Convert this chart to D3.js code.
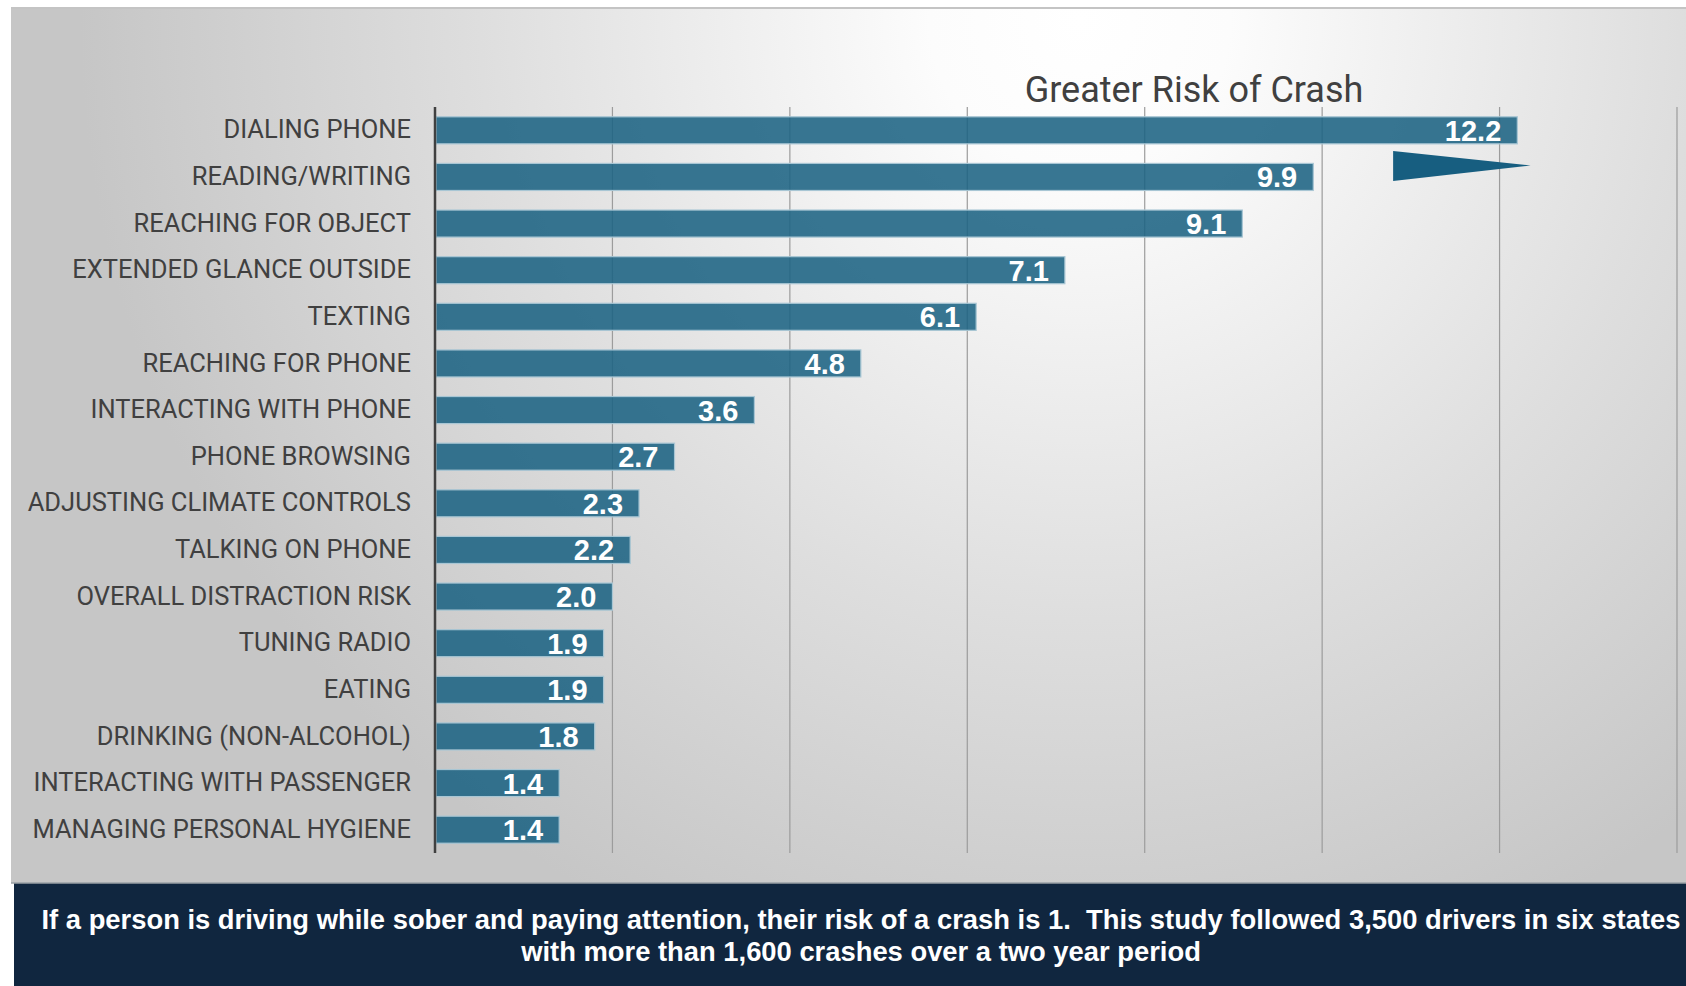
<!DOCTYPE html>
<html>
<head>
<meta charset="utf-8">
<script src="https://cdn.jsdelivr.net/npm/d3@7"></script>
<style>
    html, body { margin: 0; padding: 0; background: #fff; }
    svg { display: block; }
</style>
</head>
<body>
<div class="canvas"></div>
<script>
// data
const categories = [
    'DIALING PHONE',
    'READING/WRITING',
    'REACHING FOR OBJECT',
    'EXTENDED GLANCE OUTSIDE',
    'TEXTING',
    'REACHING FOR PHONE',
    'INTERACTING WITH PHONE',
    'PHONE BROWSING',
    'ADJUSTING CLIMATE CONTROLS',
    'TALKING ON PHONE',
    'OVERALL DISTRACTION RISK',
    'TUNING RADIO',
    'EATING',
    'DRINKING (NON-ALCOHOL)',
    'INTERACTING WITH PASSENGER',
    'MANAGING PERSONAL HYGIENE'
];
const riskValues = [12.2, 9.9, 9.1, 7.1, 6.1, 4.8, 3.6, 2.7, 2.3, 2.2, 2.0, 1.9, 1.9, 1.8, 1.4, 1.4];
const gridTicks = [0, 2, 4, 6, 8, 10, 12, 14];
const chartTitle = 'Greater Risk of Crash';
const noteLines = [
    'If a person is driving while sober and paying attention, their risk of a crash is 1.  This study followed 3,500 drivers in six states',
    'with more than 1,600 crashes over a two year period'
];

const dims = { width: 1686, height: 986 };
const plot = { left: 435, right: 1677, top: 107, bottom: 853 };
const panel = { x: 11, y: 8, width: 1675, height: 875 };

const data = categories.map((name, i) => ({ name, value: riskValues[i] }));

const svg = d3.select('.canvas')
    .append('svg')
    .attr('width', dims.width)
    .attr('height', dims.height);

// background gradient
const defs = svg.append('defs');
const grad = defs.append('radialGradient')
    .attr('id', 'bg')
    .attr('gradientUnits', 'userSpaceOnUse')
    .attr('cx', 0).attr('cy', 0).attr('r', 1)
    .attr('gradientTransform', 'translate(1080, 20) scale(1000, 1000)');
grad.append('stop').attr('offset', 0).attr('stop-color', '#ffffff');
grad.append('stop').attr('offset', 0.15).attr('stop-color', '#fcfcfc');
grad.append('stop').attr('offset', 0.6).attr('stop-color', '#dedede');
grad.append('stop').attr('offset', 1).attr('stop-color', '#c6c6c6');

svg.append('rect')
    .attr('x', panel.x).attr('y', panel.y)
    .attr('width', panel.width).attr('height', panel.height)
    .attr('fill', 'url(#bg)');

svg.append('line')
    .attr('x1', panel.x).attr('x2', dims.width)
    .attr('y1', panel.y).attr('y2', panel.y)
    .attr('stroke', '#c4c4c4')
    .attr('stroke-width', 2);

// scales
const x = d3.scaleLinear()
    .domain([0, 14])
    .range([plot.left, plot.right]);

const y = d3.scaleBand()
    .domain(categories)
    .range([plot.top, plot.bottom])
    .paddingInner(0.42)
    .paddingOuter(0.21);

// gridlines
svg.append('g')
    .selectAll('line')
    .data(gridTicks.slice(1))
    .enter()
    .append('line')
        .attr('x1', d => x(d)).attr('x2', d => x(d))
        .attr('y1', plot.top).attr('y2', plot.bottom)
        .attr('stroke', '#9c9c9c')
        .attr('stroke-width', 1.2);

// bars
svg.append('g')
    .selectAll('rect')
    .data(data)
    .enter()
    .append('rect')
        .attr('x', x(0) + 1)
        .attr('y', d => y(d.name))
        .attr('width', d => x(d.value) - x(0) - 1)
        .attr('height', y.bandwidth())
        .attr('fill', '#1c6383')
        .attr('fill-opacity', 0.88)
        .attr('stroke', '#a8c6d4')
        .attr('stroke-width', 1.2);

// value labels
svg.append('g')
    .selectAll('text')
    .data(data)
    .enter()
    .append('text')
        .attr('x', d => x(d.value) - 16)
        .attr('y', d => y(d.name) + y.bandwidth() / 2)
        .attr('dy', '0.36em')
        .attr('text-anchor', 'end')
        .attr('fill', '#fff')
        .style('font', 'bold 29px "Liberation Sans", Arial, sans-serif')
        .text(d => d.value.toFixed(1));

// category axis
const yAxis = d3.axisLeft(y).tickSize(0).tickPadding(24);
const axisG = svg.append('g')
    .attr('transform', `translate(${plot.left}, 0)`)
    .call(yAxis);
axisG.select('.domain')
    .attr('d', `M0,${plot.top}V${plot.bottom}`)
    .attr('stroke', '#404040')
    .attr('stroke-width', 2.5);
axisG.selectAll('text')
    .attr('fill', '#404040')
    .style('font', '25.5px Roboto, "Liberation Sans", sans-serif');

// arrow marker beside the top bar
const arrowY = y(categories[1]);
svg.append('path')
    .attr('d', d3.line()([
        [x(10.8), arrowY - 12.5],
        [x(12.35), arrowY + 2],
        [x(10.8), arrowY + 17.5]
    ]) + 'Z')
    .attr('fill', '#175e80');

// title
svg.append('text')
    .attr('x', 1194)
    .attr('y', 102)
    .attr('text-anchor', 'middle')
    .attr('fill', '#404040')
    .style('font', '36px Roboto, "Liberation Sans", sans-serif')
    .text(chartTitle);

// note box
svg.append('rect')
    .attr('x', 14).attr('y', 883)
    .attr('width', dims.width - 14).attr('height', dims.height - 883)
    .attr('fill', '#10263f');

svg.append('line')
    .attr('x1', panel.x).attr('x2', dims.width)
    .attr('y1', 883).attr('y2', 883)
    .attr('stroke', '#9aa0a6')
    .attr('stroke-width', 1.5);

const notes = svg.append('g')
    .selectAll('text')
    .data(noteLines)
    .enter()
    .append('text')
        .attr('x', 861)
        .attr('y', (d, i) => 929 + i * 32)
        .attr('text-anchor', 'middle')
        .attr('fill', '#fff')
        .style('white-space', 'pre')
        .style('font-family', '"Liberation Sans", Arial, sans-serif')
        .style('font-weight', 'bold')
        .style('font-size', '26px')
        .text(d => d);

// fit the first line to the width the note spans, keeping lines apart
const w0 = notes.node().getComputedTextLength();
const noteSize = Math.min(28.4, 26 * 1640 / w0);
notes.style('font-size', noteSize + 'px');
</script>
</body>
</html>
